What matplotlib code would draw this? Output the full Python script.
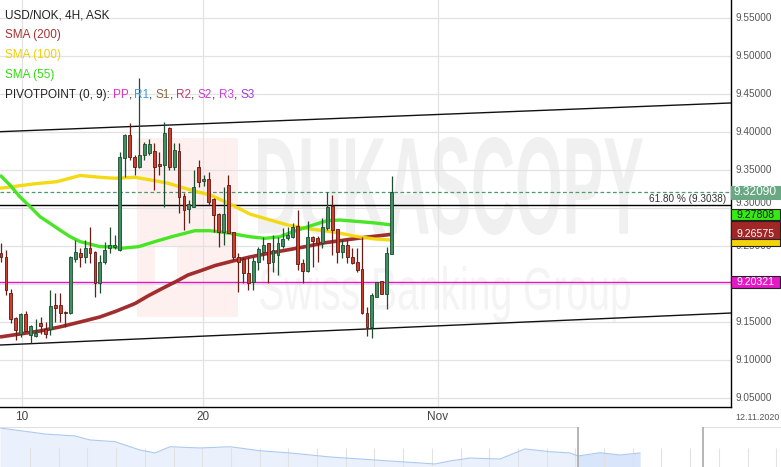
import numpy as np
import matplotlib.pyplot as plt
from matplotlib.patches import Rectangle, PathPatch
from matplotlib.textpath import TextPath
from matplotlib.font_manager import FontProperties
from matplotlib.transforms import Affine2D, blended_transform_factory

plt.rcParams['font.family'] = ['Liberation Sans', 'DejaVu Sans']

W, H = 781, 467

# 4H candles
opens = [9.2408, 9.2364, 9.1882, 9.1553, 9.1346, 9.1605, 9.1329, 9.1325, 9.1487, 9.1408,
         9.1412, 9.1732, 9.1728, 9.1640, 9.1618, 9.2333, 9.2417, 9.2364, 9.2474, 9.2430,
         9.2013, 9.2289, 9.2474, 9.2496, 9.2452, 9.3658, 9.3965, 9.3680, 9.3539, 9.3702,
         9.3724, 9.3759, 9.3583, 9.3570, 9.4053, 9.3539, 9.3759, 9.3167, 9.2987, 9.3022,
         9.3548, 9.3364, 9.3386, 9.3118, 9.2921, 9.2693, 9.3307, 9.2684, 9.2364, 9.2333,
         9.2145, 9.2026, 9.2298, 9.2430, 9.2539, 9.2289, 9.2386, 9.2509, 9.2605, 9.2627,
         9.2768, 9.2276, 9.2180, 9.2618, 9.2605, 9.2539, 9.2737, 9.3031, 9.2724, 9.2421,
         9.2518, 9.2364, 9.2289, 9.2197, 9.1618, 9.1434, 9.1838, 9.2039, 9.1873, 9.2399]
highs = [9.2548, 9.2452, 9.1934, 9.1575, 9.1627, 9.1654, 9.1460, 9.1539, 9.1566, 9.1509,
         9.1925, 9.1882, 9.1882, 9.1645, 9.2370, 9.2583, 9.2474, 9.2583, 9.2759, 9.2435,
         9.2386, 9.2561, 9.2759, 9.2649, 9.3746, 9.3978, 9.4127, 9.3702, 9.4711, 9.3877,
         9.3908, 9.3855, 9.3746, 9.4140, 9.4075, 9.3855, 9.3855, 9.3197, 9.3110, 9.3504,
         9.3636, 9.3439, 9.3482, 9.3132, 9.2934, 9.3285, 9.3439, 9.2684, 9.2408, 9.2364,
         9.2364, 9.2364, 9.2496, 9.2627, 9.2548, 9.2649, 9.2627, 9.2737, 9.2759, 9.2803,
         9.2978, 9.2333, 9.2838, 9.2636, 9.2636, 9.2868, 9.3219, 9.3175, 9.2730, 9.2596,
         9.2583, 9.2474, 9.2474, 9.2627, 9.1706, 9.1882, 9.2035, 9.2039, 9.2496, 9.3430]
lows = [9.2298, 9.1860, 9.1487, 9.1268, 9.1311, 9.1382, 9.1224, 9.1311, 9.1346, 9.1289,
        9.1333, 9.1509, 9.1504, 9.1443, 9.1610, 9.2298, 9.2224, 9.2276, 9.2276, 9.1838,
        9.1882, 9.2268, 9.2408, 9.2461, 9.2443, 9.3417, 9.3636, 9.3439, 9.3535, 9.3636,
        9.3702, 9.3241, 9.3439, 9.3013, 9.3504, 9.3504, 9.2934, 9.2715, 9.2803, 9.3013,
        9.3276, 9.3298, 9.3044, 9.2693, 9.2496, 9.2518, 9.2671, 9.2320, 9.1904, 9.2013,
        9.1925, 9.1925, 9.2189, 9.2320, 9.2013, 9.2167, 9.2123, 9.2474, 9.2583, 9.2605,
        9.2189, 9.2013, 9.2158, 9.2232, 9.2298, 9.2474, 9.2715, 9.2386, 9.2276, 9.2342,
        9.2276, 9.2268, 9.2158, 9.1610, 9.1320, 9.1289, 9.1838, 9.1873, 9.1671, 9.2399]
closes = [9.2355, 9.1925, 9.1539, 9.1399, 9.1605, 9.1390, 9.1456, 9.1364, 9.1452, 9.1346,
          9.1719, 9.1684, 9.1618, 9.1618, 9.2364, 9.2421, 9.2355, 9.2474, 9.2417, 9.2022,
          9.2298, 9.2452, 9.2518, 9.2518, 9.3680, 9.3965, 9.3671, 9.3539, 9.3706, 9.3846,
          9.3842, 9.3548, 9.3557, 9.3987, 9.3548, 9.3768, 9.3154, 9.2978, 9.3057, 9.3285,
          9.3351, 9.3386, 9.3088, 9.2912, 9.2693, 9.2925, 9.2671, 9.2355, 9.2298, 9.2145,
          9.2022, 9.2307, 9.2461, 9.2518, 9.2276, 9.2452, 9.2539, 9.2596, 9.2649, 9.2759,
          9.2268, 9.2180, 9.2618, 9.2575, 9.2548, 9.2759, 9.3022, 9.2715, 9.2421, 9.2518,
          9.2355, 9.2276, 9.2189, 9.1618, 9.1434, 9.1860, 9.2026, 9.1873, 9.2408, 9.3209]

# moving averages (candle index, price)
sma200_x = [-0.2, 3.8, 7.9, 11.9, 16.0, 20.0, 23.1, 27.1, 29.7, 32.6, 35.4, 37.8, 40.2,
            43.3, 46.9, 50.3, 54.4, 58.4, 61.5, 65.5, 69.6, 73.6, 79.0]
sma200_y = [9.1307, 9.1346, 9.1386, 9.1439, 9.1504, 9.1570, 9.1642, 9.1747, 9.1846, 9.1945,
            9.2037, 9.2122, 9.2175, 9.2247, 9.2307, 9.2359, 9.2412, 9.2458, 9.2495, 9.2547,
            9.2583, 9.2618, 9.26575]
sma100_x = [-0.2, 6.5, 11.3, 16.0, 20.0, 23.1, 27.1, 31.1, 33.8, 36.5, 39.2, 42.3, 46.3,
            50.3, 54.4, 58.0, 61.5, 66.9, 72.2, 75.6, 78.7]
sma100_y = [9.3263, 9.3320, 9.3350, 9.3432, 9.3408, 9.3395, 9.3408, 9.3363, 9.3329, 9.3276,
            9.3225, 9.3175, 9.3057, 9.2925, 9.2846, 9.2780, 9.2737, 9.2692, 9.2626, 9.2596,
            9.2583]
sma55_x = [-0.2, 1.8, 3.8, 5.9, 7.9, 9.9, 11.9, 14.0, 16.0, 18.0, 20.0, 22.4, 24.4, 27.8,
           31.1, 34.5, 39.2, 42.3, 46.3, 50.3, 53.4, 56.4, 59.0, 62.5, 65.9, 68.5, 72.6,
           75.6, 79.0]
sma55_y = [9.3438, 9.3307, 9.3153, 9.3021, 9.2889, 9.2803, 9.2714, 9.2626, 9.2561, 9.2530,
           9.2495, 9.2495, 9.2474, 9.2495, 9.2561, 9.2626, 9.2705, 9.2705, 9.2671, 9.2626,
           9.2605, 9.2626, 9.2692, 9.2767, 9.2837, 9.2846, 9.2824, 9.2807, 9.27808]

# trend channel end points
chan_x = [-0.2, 147.6]
chan_top = [9.4008, 9.4386]
chan_bot = [9.1201, 9.1622]

last_price = 9.32090
fib_level = 9.3038
pivot_pp = 9.20321
sma_last = {'sma55': 9.27808, 'sma200': 9.26575, 'sma100': 9.25877}

ytick_vals = [9.05, 9.10, 9.15, 9.20, 9.25, 9.30, 9.35, 9.40, 9.45, 9.50, 9.55]
xtick_pos = [4.2, 40.9, 88.3]
xtick_lab = ['10', '20', 'Nov']

# navigator overview series
nav_t = [0, 15, 30, 45, 60, 75, 90, 115, 140, 155, 170, 200, 230, 260, 290, 330, 360,
         400, 435, 450, 470, 500, 525, 550, 570, 578, 600, 620, 640]
nav_v = [9.539, 9.516, 9.494, 9.471, 9.460, 9.449, 9.404, 9.385, 9.291, 9.258, 9.328,
         9.314, 9.328, 9.283, 9.258, 9.213, 9.190, 9.160, 9.134, 9.168, 9.201, 9.190,
         9.303, 9.272, 9.258, 9.224, 9.261, 9.235, 9.258]

fig = plt.figure(figsize=(W / 100, H / 100), dpi=100)
fig.patch.set_facecolor('white')
pix = Affine2D().scale(1.0 / W, -1.0 / H).translate(0, 1) + fig.transFigure

ax = fig.add_axes([0, 1 - 407 / H, 731 / W, 407 / H])
ax.set_xlim(-0.2, 147.6)
ax.set_ylim(9.03855, 9.57408)
ax.set_facecolor('white')
for s in ['left', 'top']:
    ax.spines[s].set_visible(False)
for s in ['right', 'bottom']:
    ax.spines[s].set_color('black')
    ax.spines[s].set_linewidth(1.0)
ax.set_yticks(ytick_vals)
ax.set_xticks(xtick_pos)
ax.tick_params(length=0, labelbottom=False, labelleft=False)
ax.grid(True, color='#e2e2e2', lw=0.9, zorder=1)
ax.set_axisbelow(True)

# watermark
logo = Rectangle((137, 138), 101, 179, transform=pix, fc='#fdf0ef', ec='none', zorder=0.4)
ax.add_patch(logo)
ax.add_patch(Rectangle((155, 247), 22, 40, transform=pix, fc='white', ec='none', zorder=0.45))


def stamp(s, box, color, weight):
    tp = TextPath((0, 0), s, size=100, prop=FontProperties(family='Liberation Sans', weight=weight))
    e = tp.get_extents()
    x0, y0, x1, y1 = box
    tr = (Affine2D().translate(-e.x0, -e.y0)
          .scale((x1 - x0) / e.width, -(y1 - y0) / e.height)
          .translate(x0, y1)) + pix
    ax.add_patch(PathPatch(tp, transform=tr, fc=color, ec='none', zorder=0.5))


stamp('DUKASCOPY', (258, 137, 643, 235), '#f0f0f0', 'bold')
stamp('Swiss Banking Group', (260, 266, 630, 322), '#f4f4f4', 'normal')

# channel and levels
ax.plot(chan_x, chan_top, color='#111111', lw=1.0, zorder=2)
ax.plot(chan_x, chan_bot, color='#111111', lw=1.0, zorder=2)
ax.axhline(fib_level, color='black', lw=1.0, zorder=2)
ax.axhline(last_price, color='#4f9a6c', lw=0.9, ls=(0, (3, 2)), zorder=2)
ax.axhline(pivot_pp, color='#e214c4', lw=1.0, zorder=2)

# moving averages
ax.plot(sma200_x, sma200_y, color='#9c2222', lw=2.6, alpha=0.95, zorder=2.5, solid_capstyle='butt')
ax.plot(sma100_x, sma100_y, color='#f4d808', lw=2.4, alpha=0.95, zorder=2.5, solid_capstyle='butt')
ax.plot(sma55_x, sma55_y, color='#3ee51a', lw=2.4, alpha=0.95, zorder=2.5, solid_capstyle='butt')

# candles
o = np.array(opens)
c = np.array(closes)
hi = np.array(highs)
lo = np.array(lows)
idx = np.arange(len(o))
up = c >= o
dn = ~up
ax.vlines(idx[up], lo[up], hi[up], color='#1f4d2f', lw=0.9, zorder=3)
ax.vlines(idx[dn], lo[dn], hi[dn], color='#6a1c16', lw=0.9, zorder=3)
ax.bar(idx[up], np.maximum(c[up] - o[up], 0.0006), bottom=o[up], width=0.58,
       color='#3f8f63', edgecolor='#1d4a2e', lw=0.6, zorder=4)
ax.bar(idx[dn], np.maximum(o[dn] - c[dn], 0.0006), bottom=c[dn], width=0.58,
       color='#cf3e2b', edgecolor='#5c1812', lw=0.6, zorder=4)

ax.text(0.993, fib_level + 0.0012, '61.80 %% (%.4f)' % fib_level,
        transform=blended_transform_factory(ax.transAxes, ax.transData),
        ha='right', va='bottom', fontsize=7.2, color='#333333', zorder=5)


def ypx(price):
    return H - ax.transData.transform((0, price))[1]


# price flags on the right edge: (top px, bottom px, text, fill, text colour, edge, text y)
flags = []
y_last = ypx(last_price)
flags.append((y_last - 6.5, y_last + 6.5, '%.5f' % last_price, '#6aa884', 'white', '#6aa884', y_last, 8.6))
y100 = ypx(sma_last['sma100'])
flags.append((y100 - 5, y100 + 6, None, '#f2d30c', '#333333', '#222222', y100, 7.6))
y200 = ypx(sma_last['sma200'])
flags.append((y200 - 13.5, y200 + 5, '%.5f' % sma_last['sma200'], '#a12626', 'white', '#222222', y200, 7.6))
y55 = y200 - 19.5
flags.append((y55 - 5.5, y55 + 5.5, '%.5f' % sma_last['sma55'], '#35ec12', '#1a1a1a', '#222222', y55, 7.6))
ypp = ypx(pivot_pp)
flags.append((ypp - 5.8, ypp + 5.8, '%.5f' % pivot_pp, '#e418c6', 'white', '#222222', ypp, 7.6))

for top, bot, txt, fc, tc, ec, ty, fs in flags:
    fig.add_artist(Rectangle((731, top), 49, bot - top, transform=pix, fc=fc, ec=ec, lw=0.8, zorder=6))
    if txt:
        fig.text(755.5 / W, 1 - ty / H, txt, ha='center', va='center', fontsize=fs, color=tc, zorder=7)

# right axis labels (those under a flag are hidden, like in the original)
bt = blended_transform_factory(pix, ax.transData)
for v in ytick_vals:
    yy = v + 0.0068 if abs(v - 9.30) < 1e-9 else v
    yp = ypx(yy)
    covered = any(top - 2 < yp < bot + 1 for top, bot, txt, *_ in flags if txt)
    if covered:
        continue
    fig.text(736, yy, '%.5f' % v, transform=bt, fontsize=7.2, color='#555555', va='center', ha='left')

# x axis labels
bx = blended_transform_factory(ax.transData, pix)
for p, lab in zip(xtick_pos, xtick_lab):
    ax.text(p, 417, lab, transform=bx, ha='center', va='center', fontsize=8.5, color='#444444', clip_on=False)
fig.text(757 / W, 1 - 417 / H, '12.11.2020', ha='center', va='center', fontsize=6.4, color='#555555')

# legend block
rend = fig.canvas.get_renderer()


def width(s, fs=8.5):
    t = fig.text(0, 0, s + '|', fontsize=fs)
    t2 = fig.text(0, 0, '|', fontsize=fs)
    w = t.get_window_extent(rend).width - t2.get_window_extent(rend).width
    t.remove()
    t2.remove()
    return w


legend_rows = [('USD/NOK, 4H, ASK', '#222222'), ('SMA (200)', '#a83232'),
               ('SMA (100)', '#f2d000'), ('SMA (55)', '#33dd11')]
for i, (s, col) in enumerate(legend_rows):
    fig.text(5 / W, 1 - (15 + 20 * i) / H, s, color=col, fontsize=8.5, va='center', ha='left')

pivot_parts = [('PIVOTPOINT (0, 9): ', '#222222'), ('PP', '#e232c6'), (', ', '#222222'),
               ('R1', '#3b9be0'), (', ', '#222222'), ('S1', '#8a6b45'), (', ', '#222222'),
               ('R2', '#c23a6b'), (', ', '#222222'), ('S2', '#c93bcc'), (', ', '#222222'),
               ('R3', '#c845dc'), (', ', '#222222'), ('S3', '#9c3de0')]
prefix = ''
for s, col in pivot_parts:
    x0 = 5 + (width(prefix) if prefix else 0)
    fig.text(x0 / W, 1 - 95 / H, s, color=col, fontsize=8.5, va='center', ha='left')
    prefix += s

# navigator
axn = fig.add_axes([0, 0, 1, 40 / H])
axn.set_xlim(0, W)
axn.set_ylim(9.10, 9.55)
axn.axis('off')
nt = np.array(nav_t)
nv = np.array(nav_v)
axn.fill_between(nt, nv, 9.10, color='#eaf1fc', lw=0, zorder=1)
axn.fill_between(nt, nv, 9.10, where=nt >= 578, color='#d8e5fa', lw=0, zorder=1.2)
axn.plot(nt, nv, color='#adc9f0', lw=0.8, zorder=2)
axn.vlines(np.arange(30, W, 28.7), 9.10, 9.314, color='#e2e2e2', lw=0.8, zorder=1.5)
axn.hlines(9.545, 0, 578, color='#e0e0e0', lw=0.8)
axn.hlines(9.545, 703, W, color='#e0e0e0', lw=0.8)
axn.axvline(578, color='#a8a8a8', lw=1.2)
axn.axvline(703, color='#a8a8a8', lw=1.2)

fig.savefig('out.png', dpi=100)
